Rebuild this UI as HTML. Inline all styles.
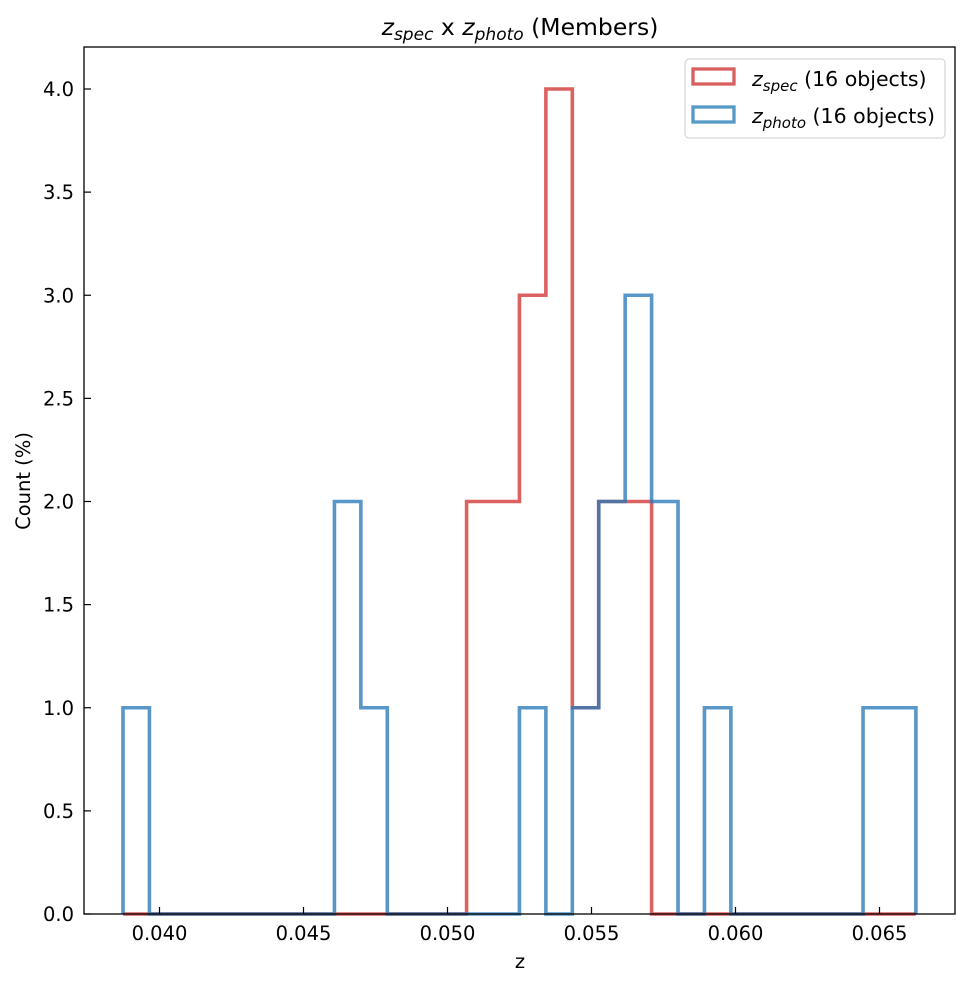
<!DOCTYPE html><html><head><style>body{margin:0;background:#fff}svg{display:block}text{font-family:"DejaVu Sans","Liberation Sans",sans-serif;fill:#000}</style></head><body>
<svg id="s" width="970" height="985" xmlns="http://www.w3.org/2000/svg">
<rect x="0" y="0" width="970" height="985" fill="#fff"/>
<g id="h"></g>
<rect x="84" y="47" width="871" height="867" fill="none" stroke="#000" stroke-width="1.3"/>
<g id="t" font-size="19.5"></g>
<text x="520" y="35" font-size="23.5" text-anchor="middle"><tspan font-style="italic">z</tspan><tspan font-size="17" font-style="italic" dy="5">spec</tspan><tspan dy="-5"> x </tspan><tspan font-style="italic">z</tspan><tspan font-size="17" font-style="italic" dy="5">photo</tspan><tspan dy="-5"> (Members)</tspan></text>
<text x="520" y="968" font-size="19.5" text-anchor="middle">z</text>
<text transform="translate(30,481) rotate(-90)" font-size="19.5" text-anchor="middle">Count (%)</text>
<rect x="685" y="59" width="260" height="79" rx="4" fill="#fff" stroke="#ccc" stroke-width="1"/>
<rect x="693" y="69" width="41" height="15" fill="none" stroke="#d95f5f" stroke-width="3.3"/>
<rect x="693" y="107" width="41" height="15" fill="none" stroke="#5599c7" stroke-width="3.3"/>
<text x="752" y="86" font-size="20.5"><tspan font-style="italic">z</tspan><tspan font-size="15" font-style="italic" dy="5">spec</tspan><tspan dy="-5"> (16 objects)</tspan></text>
<text x="752" y="123" font-size="20.5"><tspan font-style="italic">z</tspan><tspan font-size="15" font-style="italic" dy="5">photo</tspan><tspan dy="-5"> (16 objects)</tspan></text>
</svg>
<script>
var NS="http://www.w3.org/2000/svg";
function el(t,a,p){var e=document.createElementNS(NS,t);for(var k in a)e.setAttribute(k,a[k]);p.appendChild(e);return e;}
var h=document.getElementById("h"),tg=document.getElementById("t");
function ex(k){return 123+26.43*k}function Y(v){return 914-206.25*v}
function path(c){var d="M"+ex(0)+","+Y(0);for(var k=0;k<30;k++){d+=" L"+ex(k)+","+Y(c[k])+" L"+ex(k+1)+","+Y(c[k]);}d+=" L"+ex(30)+","+Y(0);return d;}
var r=new Array(30).fill(0),b=new Array(30).fill(0);
r[13]=2;r[14]=2;r[15]=3;r[16]=4;r[17]=1;r[18]=2;r[19]=2;
b[0]=1;b[8]=2;b[9]=1;b[15]=1;b[17]=1;b[18]=2;b[19]=3;b[20]=2;b[22]=1;b[28]=1;b[29]=1;
el("path",{d:path(r),fill:"none",stroke:"#d64545","stroke-width":3.6,"stroke-opacity":0.85},h);
el("path",{d:path(b),fill:"none",stroke:"#2a7ab8","stroke-width":3.6,"stroke-opacity":0.78},h);
for(var i=0;i<=8;i++){var v=i*0.5,y=Y(v);el("line",{x1:84,x2:91,y1:y,y2:y,stroke:"#000","stroke-width":1.2},tg);var t=el("text",{x:74,y:y+7,"text-anchor":"end"},tg);t.textContent=v.toFixed(1);}
var xl=["0.040","0.045","0.050","0.055","0.060","0.065"];
for(var i=0;i<6;i++){var x=159.5+144*i;el("line",{x1:x,x2:x,y1:914,y2:907,stroke:"#000","stroke-width":1.2},tg);var t=el("text",{x:x,y:940,"text-anchor":"middle"},tg);t.textContent=xl[i];}
</script>
</body></html>
